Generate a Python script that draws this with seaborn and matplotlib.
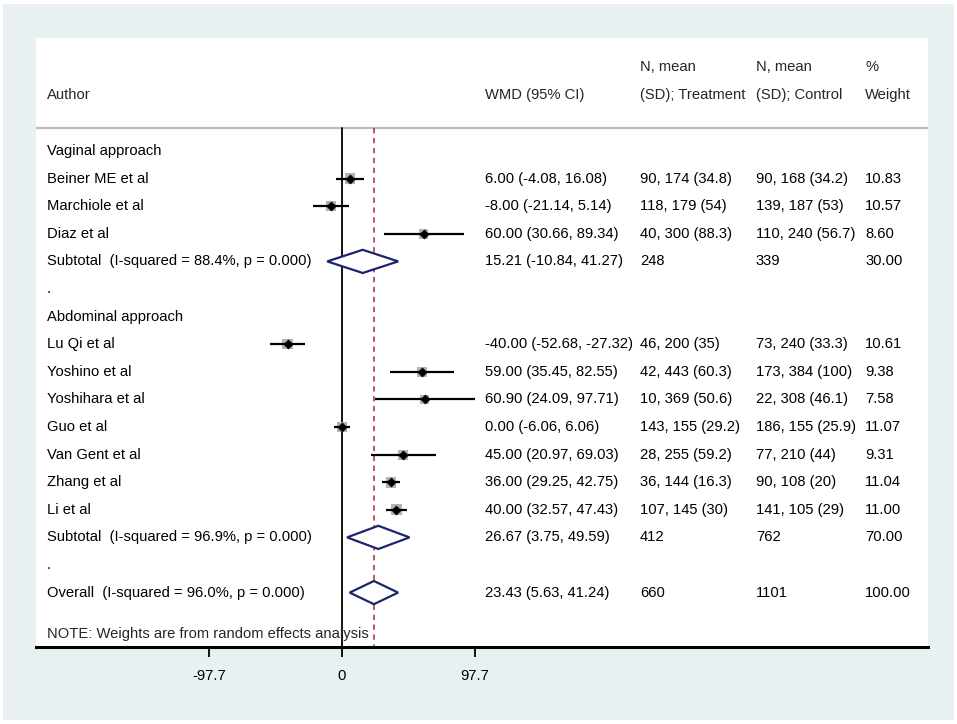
import matplotlib
matplotlib.use("Agg")
import matplotlib.pyplot as plt
import matplotlib.transforms as mtransforms
from matplotlib.patches import Rectangle, Polygon
import numpy as np
import pandas as pd
import seaborn as sns

# rows of the forest plot, top to bottom
labels = ["Vaginal approach", "Beiner ME et al", "Marchiole et al", "Diaz et al",
          "Subtotal  (I-squared = 88.4%, p = 0.000)", ".", "Abdominal approach",
          "Lu Qi et al", "Yoshino et al", "Yoshihara et al", "Guo et al", "Van Gent et al",
          "Zhang et al", "Li et al", "Subtotal  (I-squared = 96.9%, p = 0.000)", ".",
          "Overall  (I-squared = 96.0%, p = 0.000)"]
kind = ["head", "study", "study", "study", "pool", "blank", "head",
        "study", "study", "study", "study", "study", "study", "study", "pool", "blank", "pool"]
nan = np.nan
wmd = [nan, 6.00, -8.00, 60.00, 15.21, nan, nan,
       -40.00, 59.00, 60.90, 0.00, 45.00, 36.00, 40.00, 26.67, nan, 23.43]
ci_lo = [nan, -4.08, -21.14, 30.66, -10.84, nan, nan,
         -52.68, 35.45, 24.09, -6.06, 20.97, 29.25, 32.57, 3.75, nan, 5.63]
ci_hi = [nan, 16.08, 5.14, 89.34, 41.27, nan, nan,
         -27.32, 82.55, 97.71, 6.06, 69.03, 42.75, 47.43, 49.59, nan, 41.24]
weight = [nan, 10.83, 10.57, 8.60, 30.00, nan, nan,
          10.61, 9.38, 7.58, 11.07, 9.31, 11.04, 11.00, 70.00, nan, 100.00]
wmd_txt = ["", "6.00 (-4.08, 16.08)", "-8.00 (-21.14, 5.14)", "60.00 (30.66, 89.34)",
           "15.21 (-10.84, 41.27)", "", "",
           "-40.00 (-52.68, -27.32)", "59.00 (35.45, 82.55)", "60.90 (24.09, 97.71)",
           "0.00 (-6.06, 6.06)", "45.00 (20.97, 69.03)", "36.00 (29.25, 42.75)",
           "40.00 (32.57, 47.43)", "26.67 (3.75, 49.59)", "", "23.43 (5.63, 41.24)"]
treat_txt = ["", "90, 174 (34.8)", "118, 179 (54)", "40, 300 (88.3)", "248", "", "",
             "46, 200 (35)", "42, 443 (60.3)", "10, 369 (50.6)", "143, 155 (29.2)",
             "28, 255 (59.2)", "36, 144 (16.3)", "107, 145 (30)", "412", "", "660"]
ctrl_txt = ["", "90, 168 (34.2)", "139, 187 (53)", "110, 240 (56.7)", "339", "", "",
            "73, 240 (33.3)", "173, 384 (100)", "22, 308 (46.1)", "186, 155 (25.9)",
            "77, 210 (44)", "90, 108 (20)", "141, 105 (29)", "762", "", "1101"]
weight_txt = ["", "10.83", "10.57", "8.60", "30.00", "", "",
              "10.61", "9.38", "7.58", "11.07", "9.31", "11.04", "11.00", "70.00", "", "100.00"]
xticks = [-97.7, 0, 97.7]
xtick_labels = ["-97.7", "0", "97.7"]
note = "NOTE: Weights are from random effects analysis"

df = pd.DataFrame({"label": labels, "kind": kind, "wmd": wmd, "lo": ci_lo, "hi": ci_hi,
                   "weight": weight})
df["row"] = np.arange(len(df))
studies = df[df["kind"] == "study"]
pooled = df[df["kind"] == "pool"]
overall = pooled.iloc[-1]

sns.set_style("white")
plt.rcParams["font.family"] = ["Liberation Sans", "DejaVu Sans"]
FS = 10.6

W, H = 957, 724
fig = plt.figure(figsize=(W / 100, H / 100), dpi=100)
fig.patch.set_facecolor("white")
fig.patches.append(Rectangle((3 / W, 4 / H), 951 / W, 716 / H, transform=fig.transFigure,
                             facecolor="#e8f0f2", edgecolor="none", zorder=-10))

# white panel = axes
x0, x1, ytop, ybot = 36, 928, 38, 647
ax = fig.add_axes([x0 / W, 1 - ybot / H, (x1 - x0) / W, (ybot - ytop) / H])
ax.set_facecolor("white")
ppu = 133 / 97.7  # pixels per WMD unit
zero_px = 342
ax.set_xlim((x0 - zero_px) / ppu, (x1 - zero_px) / ppu)
row0, step = 151, 27.6
ax.set_ylim((ybot - row0) / step, (ytop - row0) / step)

head_line = (128 - row0) / step
ymax = (ybot - row0) / step

# reference lines
ax.plot([0, 0], [head_line, ymax], color="black", lw=1.3, zorder=2)
ax.plot([overall["wmd"]] * 2, [head_line, ymax], color="#a52a3a", lw=1.1,
        ls=(0, (3.5, 3)), zorder=2)
ax.axhline(head_line, color="#bdbdbd", lw=1.6, zorder=1)

# study weights (grey squares), CIs, point estimates
wmin, wmax = studies["weight"].min(), studies["weight"].max()
sns.scatterplot(data=studies, x="wmd", y="row", size="weight",
                sizes=(60 * wmin / wmax, 60), marker="s", color="#b3b3b3",
                edgecolor="none", legend=False, ax=ax, zorder=3)
ax.hlines(studies["row"], studies["lo"], studies["hi"], color="black", lw=1.6, zorder=4)
sns.scatterplot(data=studies, x="wmd", y="row", marker="D", color="black", s=21,
                edgecolor="black", linewidth=0.5, legend=False, ax=ax, zorder=5)

# pooled diamonds
hh = 0.42
for _, r in pooled.iterrows():
    ax.add_patch(Polygon([(r["lo"], r["row"]), (r["wmd"], r["row"] - hh),
                          (r["hi"], r["row"]), (r["wmd"], r["row"] + hh)],
                         closed=True, facecolor="white", edgecolor="#1c2470",
                         lw=1.6, zorder=6))

# text columns
tr = mtransforms.blended_transform_factory(fig.transFigure, ax.transData)
cols = [(47, labels), (485, wmd_txt), (640, treat_txt), (756, ctrl_txt), (865, weight_txt)]
for px, texts in cols:
    for i, t in enumerate(texts):
        if t:
            ax.text(px / W, i, t, transform=tr, fontsize=FS, va="center", ha="left",
                    color="black", zorder=7)

hdr1 = (67 - row0) / step
hdr2 = (95 - row0) / step
for px, t1, t2 in [(47, "", "Author"), (485, "", "WMD (95% CI)"),
                   (640, "N, mean", "(SD); Treatment"), (756, "N, mean", "(SD); Control"),
                   (865, "%", "Weight")]:
    if t1:
        ax.text(px / W, hdr1, t1, transform=tr, fontsize=FS, va="center", ha="left")
    ax.text(px / W, hdr2, t2, transform=tr, fontsize=FS, va="center", ha="left")

ax.text(47 / W, (634 - row0) / step, note, transform=tr, fontsize=FS, va="center", ha="left")

# axis
for s in ["left", "right", "top"]:
    ax.spines[s].set_visible(False)
ax.spines["bottom"].set_linewidth(2.2)
ax.spines["bottom"].set_color("black")
ax.set_yticks([])
ax.set_xticks(xticks)
ax.set_xticklabels(xtick_labels, fontsize=FS)
ax.tick_params(axis="x", direction="out", length=7, width=1.3, pad=9, colors="black",
               bottom=True)
ax.set_xlabel("")
ax.set_ylabel("")

fig.savefig("out.png", dpi=100, facecolor=fig.get_facecolor())
